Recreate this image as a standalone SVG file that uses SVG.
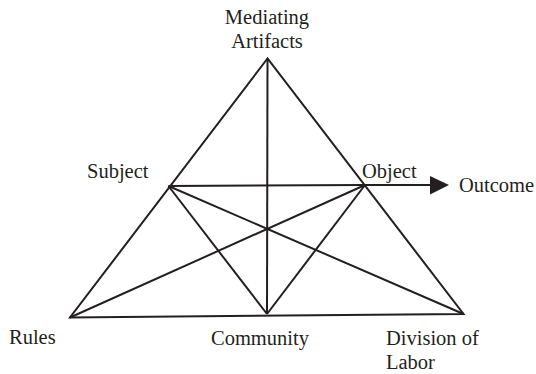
<svg xmlns="http://www.w3.org/2000/svg" width="536" height="374" viewBox="0 0 536 374">
<style>
text{font-family:"Liberation Serif","Times New Roman",serif;font-size:20.5px;fill:#231f20}
.l{stroke:#231f20;stroke-width:2;fill:none;stroke-linejoin:miter}
.ah{fill:#231f20}
</style>
<rect width="536" height="374" fill="#fff"/>
<g id="connectors">
<path class="l" d="M267.5,58.5 L70,317.5 L463.5,314 Z"/>
<line class="l" x1="267.5" y1="58.5" x2="267" y2="314"/>
<line class="l" x1="168.5" y1="186" x2="365" y2="185"/>
<line class="l" x1="168.5" y1="186" x2="267" y2="314"/>
<line class="l" x1="365" y1="185" x2="267" y2="314"/>
<line class="l" x1="168.5" y1="186" x2="463.5" y2="314"/>
<line class="l" x1="365" y1="185" x2="70" y2="317.5"/>
<line class="l" x1="365" y1="185" x2="433" y2="185"/>
<path class="ah" d="M430,176 L449,185 L430,194.5 Z"/>
</g>
<g id="mediating"><text x="267" y="24" text-anchor="middle">Mediating</text><text x="267" y="48" text-anchor="middle">Artifacts</text></g>
<g id="subject"><text x="87" y="178">Subject</text></g>
<g id="object"><text x="362" y="178">Object</text></g>
<g id="outcome"><text x="459" y="192">Outcome</text></g>
<g id="rules"><text x="9" y="344">Rules</text></g>
<g id="community"><text x="211" y="345">Community</text></g>
<g id="division"><text x="386" y="345">Division of</text><text x="386" y="369">Labor</text></g>
</svg>
